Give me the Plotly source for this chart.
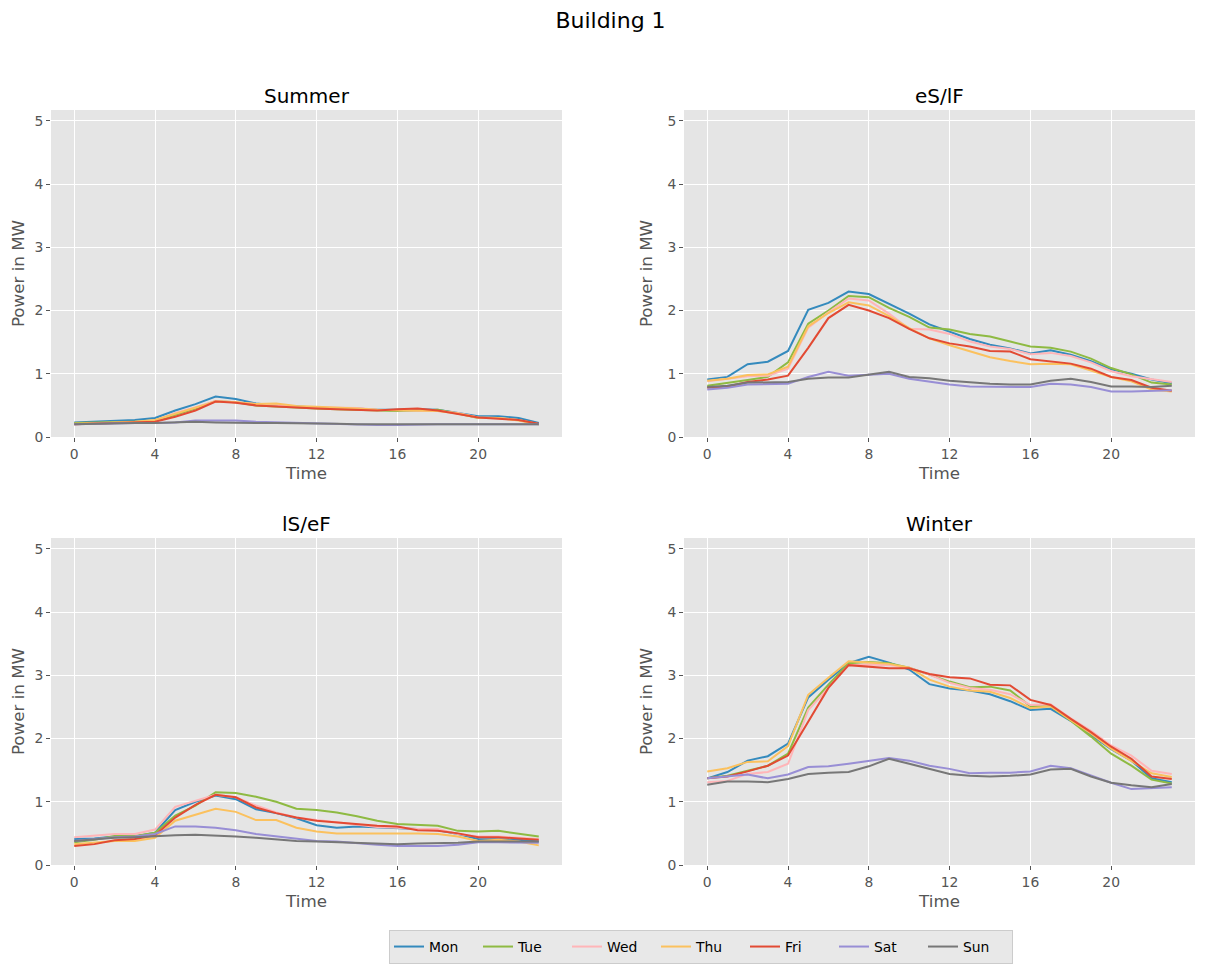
import plotly.graph_objects as go
from plotly.subplots import make_subplots

hours = list(range(24))
days = ["Mon", "Tue", "Wed", "Thu", "Fri", "Sat", "Sun"]
colors = ["#348ABD", "#8EBA42", "#FFB5B8", "#FBC15E", "#E24A33", "#988ED5", "#777777"]
titles = ["Summer", "eS/lF", "lS/eF", "Winter"]
x_ticks = [0, 4, 8, 12, 16, 20]
y_ticks = [0, 1, 2, 3, 4, 5]

summer_mon = [0.23,0.24,0.25,0.27,0.30,0.42,0.52,0.64,0.60,0.53,0.50,0.48,0.46,0.45,0.45,0.43,0.43,0.44,0.43,0.38,0.33,0.33,0.30,0.22]
summer_tue = [0.22,0.23,0.24,0.24,0.25,0.35,0.45,0.57,0.55,0.50,0.48,0.46,0.45,0.44,0.43,0.41,0.41,0.42,0.43,0.37,0.30,0.30,0.27,0.20]
summer_wed = [0.20,0.21,0.22,0.23,0.26,0.38,0.47,0.57,0.55,0.52,0.51,0.48,0.47,0.47,0.46,0.43,0.42,0.42,0.41,0.38,0.31,0.30,0.27,0.20]
summer_thu = [0.21,0.22,0.23,0.24,0.27,0.37,0.46,0.56,0.55,0.52,0.53,0.49,0.48,0.47,0.45,0.43,0.42,0.42,0.41,0.37,0.31,0.30,0.26,0.20]
summer_fri = [0.20,0.21,0.22,0.23,0.24,0.32,0.42,0.56,0.54,0.50,0.48,0.46,0.45,0.44,0.43,0.42,0.44,0.45,0.42,0.37,0.31,0.29,0.27,0.21]
summer_sat = [0.20,0.21,0.22,0.22,0.22,0.23,0.26,0.26,0.26,0.24,0.23,0.22,0.21,0.21,0.20,0.19,0.19,0.20,0.20,0.20,0.20,0.21,0.21,0.20]
summer_sun = [0.20,0.21,0.22,0.22,0.22,0.23,0.24,0.23,0.22,0.22,0.22,0.22,0.22,0.21,0.20,0.20,0.21,0.21,0.21,0.21,0.21,0.21,0.21,0.20]

esl_mon = [0.91,0.95,1.15,1.19,1.36,2.01,2.12,2.30,2.26,2.11,1.95,1.78,1.67,1.55,1.46,1.40,1.32,1.37,1.30,1.20,1.07,1.00,0.91,0.85]
esl_tue = [0.81,0.85,0.90,0.95,1.18,1.79,2.00,2.23,2.21,2.04,1.90,1.73,1.70,1.63,1.59,1.51,1.43,1.41,1.35,1.24,1.09,0.99,0.86,0.83]
esl_wed = [0.88,0.92,0.96,0.97,1.08,1.73,1.97,2.19,2.16,1.95,1.71,1.70,1.63,1.51,1.43,1.39,1.31,1.33,1.28,1.18,1.04,0.96,0.91,0.87]
esl_thu = [0.89,0.92,0.98,0.99,1.11,1.75,1.96,2.13,2.08,1.91,1.72,1.56,1.45,1.35,1.26,1.20,1.15,1.16,1.15,1.05,0.95,0.88,0.75,0.72]
esl_fri = [0.78,0.80,0.87,0.91,0.97,1.41,1.88,2.09,2.00,1.88,1.71,1.56,1.48,1.43,1.36,1.35,1.23,1.19,1.16,1.08,0.95,0.90,0.78,0.73]
esl_sat = [0.75,0.78,0.83,0.84,0.84,0.95,1.03,0.97,0.99,1.00,0.92,0.87,0.83,0.80,0.80,0.79,0.79,0.84,0.83,0.79,0.72,0.72,0.73,0.74]
esl_sun = [0.79,0.81,0.86,0.86,0.87,0.92,0.94,0.94,0.98,1.03,0.95,0.93,0.89,0.86,0.84,0.83,0.83,0.89,0.92,0.87,0.80,0.80,0.79,0.81]

lse_mon = [0.41,0.42,0.45,0.45,0.51,0.87,1.00,1.10,1.04,0.88,0.82,0.74,0.63,0.59,0.61,0.60,0.59,0.57,0.55,0.49,0.41,0.41,0.40,0.37]
lse_tue = [0.36,0.40,0.46,0.46,0.51,0.78,0.94,1.15,1.14,1.08,1.00,0.89,0.87,0.83,0.77,0.70,0.65,0.64,0.62,0.54,0.53,0.54,0.49,0.45]
lse_wed = [0.44,0.46,0.49,0.49,0.56,0.92,1.02,1.11,1.07,0.94,0.83,0.75,0.71,0.67,0.64,0.60,0.59,0.57,0.57,0.49,0.45,0.45,0.43,0.41]
lse_thu = [0.33,0.36,0.38,0.38,0.43,0.70,0.80,0.89,0.84,0.71,0.71,0.59,0.53,0.50,0.50,0.50,0.51,0.50,0.49,0.45,0.38,0.40,0.37,0.31]
lse_fri = [0.30,0.33,0.39,0.41,0.47,0.75,0.95,1.11,1.07,0.91,0.82,0.75,0.70,0.67,0.65,0.62,0.61,0.55,0.54,0.50,0.44,0.44,0.42,0.40]
lse_sat = [0.38,0.41,0.44,0.45,0.49,0.61,0.61,0.59,0.55,0.49,0.45,0.42,0.38,0.37,0.34,0.32,0.30,0.30,0.30,0.32,0.36,0.36,0.36,0.35]
lse_sun = [0.38,0.41,0.43,0.44,0.46,0.47,0.48,0.47,0.45,0.43,0.40,0.38,0.37,0.36,0.35,0.34,0.33,0.34,0.34,0.35,0.37,0.37,0.37,0.37]

winter_mon = [1.37,1.47,1.65,1.72,1.92,2.65,2.93,3.19,3.29,3.20,3.09,2.86,2.79,2.76,2.70,2.59,2.45,2.47,2.28,2.06,1.83,1.65,1.37,1.31]
winter_tue = [1.37,1.41,1.49,1.57,1.76,2.49,2.85,3.19,3.21,3.19,3.12,3.01,2.90,2.81,2.82,2.76,2.51,2.51,2.28,2.03,1.76,1.57,1.35,1.29]
winter_wed = [1.31,1.33,1.44,1.47,1.60,2.45,2.80,3.16,3.17,3.16,3.12,3.01,2.88,2.80,2.77,2.70,2.53,2.54,2.32,2.12,1.89,1.73,1.49,1.44]
winter_thu = [1.48,1.53,1.63,1.64,1.88,2.69,2.96,3.22,3.20,3.18,3.12,2.93,2.82,2.76,2.74,2.64,2.48,2.51,2.29,2.08,1.84,1.65,1.45,1.39]
winter_fri = [1.37,1.40,1.48,1.57,1.73,2.27,2.80,3.16,3.14,3.11,3.11,3.02,2.97,2.95,2.85,2.84,2.61,2.53,2.31,2.10,1.87,1.68,1.40,1.36]
winter_sat = [1.37,1.40,1.43,1.37,1.43,1.55,1.56,1.60,1.65,1.69,1.65,1.57,1.52,1.45,1.46,1.46,1.48,1.57,1.53,1.41,1.30,1.20,1.21,1.23]
winter_sun = [1.27,1.32,1.32,1.31,1.36,1.44,1.46,1.47,1.56,1.68,1.60,1.52,1.44,1.41,1.40,1.41,1.43,1.51,1.52,1.40,1.30,1.26,1.23,1.28]

panels = [
    [summer_mon, summer_tue, summer_wed, summer_thu, summer_fri, summer_sat, summer_sun],
    [esl_mon, esl_tue, esl_wed, esl_thu, esl_fri, esl_sat, esl_sun],
    [lse_mon, lse_tue, lse_wed, lse_thu, lse_fri, lse_sat, lse_sun],
    [winter_mon, winter_tue, winter_wed, winter_thu, winter_fri, winter_sat, winter_sun],
]

# the page has an 8px body margin; the figure is sized so the page does not overflow the window
W, H = 1205, 958
ml, mr, mt, mb = 43, 18, 102, 101
pw, ph = W - ml - mr, H - mt - mb

fig = make_subplots(rows=2, cols=2, subplot_titles=titles,
                    horizontal_spacing=122 / pw, vertical_spacing=101 / ph)

for i, series in enumerate(panels):
    r, c = i // 2 + 1, i % 2 + 1
    for d, (name, vals) in enumerate(zip(days, series)):
        fig.add_trace(go.Scatter(x=hours, y=vals, mode="lines", name=name,
                                 line=dict(color=colors[d], width=2),
                                 legendgroup=name, showlegend=(i == 0)),
                      row=r, col=c)

font_family = "DejaVu Sans"
fig.update_xaxes(range=[-1.15, 24.15], tickvals=x_ticks, showgrid=True, gridcolor="white",
                 gridwidth=1, zeroline=False, showline=False, ticks="outside", ticklen=4,
                 automargin=False,
                 tickcolor="#555555", tickfont=dict(size=13.9, color="#555555", family=font_family),
                 title=dict(text="Time", font=dict(size=16.7, color="#555555", family=font_family),
                            standoff=6))
fig.update_yaxes(range=[0, 5.17], tickvals=y_ticks, showgrid=True, gridcolor="white",
                 gridwidth=1, zeroline=False, showline=False, ticks="outside", ticklen=4,
                 automargin=False,
                 tickcolor="#555555", tickfont=dict(size=13.9, color="#555555", family=font_family),
                 title=dict(text="Power in MW", font=dict(size=16.7, color="#555555", family=font_family),
                            standoff=10))

for ann in fig.layout.annotations:
    ann.font = dict(size=20, color="black", family=font_family)

fig.update_layout(
    width=W, height=H,
    margin=dict(l=ml, r=mr, t=mt, b=mb, autoexpand=False),
    paper_bgcolor="white", plot_bgcolor="#E5E5E5",
    font=dict(family=font_family, color="#555555"),
    title=dict(text="Building 1", x=(610.5 - 8) / W, xref="container", xanchor="center",
               y=1 - 12 / H, yanchor="middle",
               font=dict(size=22, color="black", family=font_family)),
    legend=dict(orientation="h", x=(693 - ml) / pw, xanchor="center",
                y=-(922 - (H - mb)) / ph, yanchor="top",
                bgcolor="#E8E8E8", bordercolor="#CCCCCC", borderwidth=1,
                font=dict(size=13.9, color="black", family=font_family),
                entrywidth=44, itemwidth=30),
)

fig.write_html("out.html")
